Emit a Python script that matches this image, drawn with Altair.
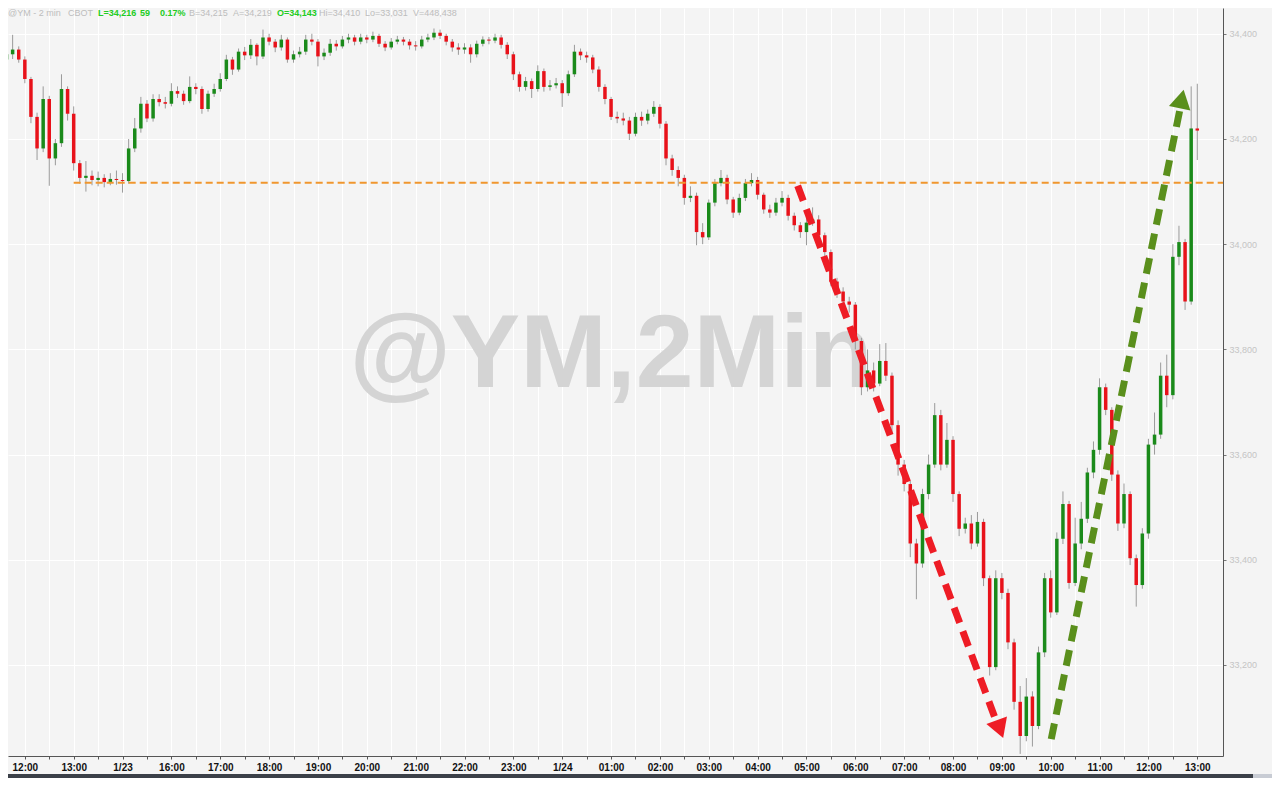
import altair as alt
import pandas as pd

# ---------------- data ----------------
first_open = 34351
closes = [34361,34370,34351,34314,34242,34182,34276,34163,34192,34295,
34248,34154,34126,34130,34122,34126,34118,34124,34122,34120,
34182,34220,34267,34239,34276,34270,34267,34291,34286,34272,
34299,34295,34257,34286,34295,34314,34351,34332,34366,34359,
34379,34357,34393,34385,34374,34389,34351,34361,34366,34389,
34385,34357,34364,34381,34376,34389,34393,34385,34393,34389,
34396,34381,34374,34385,34389,34385,34378,34376,34389,34393,
34402,34396,34385,34374,34370,34374,34361,34381,34389,34387,
34393,34379,34361,34323,34299,34310,34295,34329,34299,34302,
34306,34287,34323,34366,34359,34355,34332,34299,34276,34242,
34239,34235,34210,34242,34235,34248,34261,34229,34163,34141,
34126,34088,34092,34023,34013,34079,34116,34126,34085,34060,
34088,34116,34122,34094,34066,34060,34079,34088,34054,34036,
34023,34041,34047,34017,33985,33929,33910,33891,33885,33816,
33728,33760,33735,33778,33750,33656,33581,33544,33431,33393,
33525,33581,33675,33581,33628,33525,33459,33469,33431,33472,
33365,33196,33365,33337,33243,33130,33065,33140,33084,33224,
33365,33300,33440,33506,33356,33431,33478,33566,33609,33728,
33685,33562,33469,33525,33403,33352,33450,33619,33638,33750,
33713,33976,34004,33891,34220,34216]

highs = [34379,34398,34376,34357,34318,34250,34300,34282,34200,34323,
34300,34262,34160,34158,34140,34138,34133,34135,34140,34135,
34200,34240,34280,34274,34285,34285,34280,34306,34300,34292,
34319,34306,34300,34292,34305,34325,34360,34356,34372,34375,
34390,34382,34408,34400,34390,34398,34393,34368,34375,34398,
34400,34390,34372,34390,34388,34396,34400,34398,34400,34398,
34404,34400,34386,34392,34396,34394,34390,34386,34396,34400,
34410,34408,34400,34390,34382,34382,34380,34387,34395,34394,
34400,34398,34384,34366,34328,34318,34315,34340,34334,34312,
34316,34312,34330,34379,34372,34366,34360,34338,34304,34280,
34252,34250,34242,34250,34252,34256,34272,34266,34234,34170,
34148,34132,34110,34098,34040,34085,34124,34141,34132,34090,
34096,34124,34135,34128,34098,34075,34088,34101,34094,34060,
34042,34050,34070,34055,34022,33990,33936,33918,33900,33890,
33822,33800,33775,33810,33812,33756,33665,33590,33550,33440,
33535,33600,33698,33685,33660,33635,33530,33480,33485,33491,
33478,33370,33380,33375,33345,33250,33160,33175,33150,33235,
33375,33380,33452,33530,33512,33480,33510,33575,33625,33745,
33735,33690,33570,33545,33530,33410,33460,33630,33680,33775,
33790,34000,34035,34010,34300,34305]

lows = [34338,34352,34345,34306,34230,34160,34175,34111,34150,34185,
34235,34140,34115,34100,34112,34110,34108,34112,34113,34098,
34115,34175,34212,34232,34233,34262,34258,34262,34278,34265,
34268,34285,34248,34252,34280,34290,34310,34322,34328,34350,
34352,34340,34352,34378,34365,34368,34345,34345,34355,34360,
34378,34338,34350,34358,34368,34372,34382,34378,34380,34382,
34384,34375,34367,34370,34380,34378,34370,34368,34372,34384,
34388,34390,34378,34366,34360,34362,34345,34355,34376,34380,
34382,34372,34352,34312,34290,34292,34278,34290,34290,34292,
34296,34261,34282,34318,34350,34345,34325,34290,34266,34236,
34230,34226,34198,34205,34225,34228,34242,34220,34150,34130,
34110,34075,34080,33998,34000,34008,34072,34110,34076,34050,
34055,34082,34110,34085,34058,34050,34054,34072,34045,34026,
34012,33998,34035,34008,33975,33920,33898,33880,33870,33800,
33713,33720,33720,33730,33740,33640,33560,33530,33405,33325,
33385,33515,33575,33570,33575,33510,33445,33450,33420,33425,
33350,33180,33190,33325,33230,33115,33031,33055,33045,33078,
33215,33290,33295,33430,33345,33350,33420,33470,33555,33600,
33675,33550,33455,33460,33390,33311,33345,33440,33600,33630,
33690,33705,33960,33875,33885,34160]

# time axis: hour slots (12:00 = 0), one candle per 1/8 hour slot
T_START = -0.375
T_STEP = 0.125
x_labels = ["12:00", "13:00", "1/23", "16:00", "17:00", "18:00", "19:00", "20:00",
            "21:00", "22:00", "23:00", "1/24", "01:00", "02:00", "03:00", "04:00",
            "05:00", "06:00", "07:00", "08:00", "09:00", "10:00", "11:00", "12:00", "13:00"]
y_ticks = [33200, 33400, 33600, 33800, 34000, 34200, 34400]

level_price = 34117
level_start = 1.0

red_arrow_t = [15.82, 19.86]
red_arrow_p = [34111, 33099]
red_head = (19.96, 33078)
green_arrow_t = [21.01, 23.64]
green_arrow_p = [33059, 34254]
green_head = (23.68, 34276)

header_texts = ["@YM - 2 min", "CBOT", "L=34,216", "59", "0.17%", "B=34,215",
                "A=34,219", "O=34,143", "Hi=34,410", "Lo=33,031", "V=448,438"]
header_green = [False, False, True, True, True, False, False, True, False, False, False]

# ---------------- layout ----------------
W, H = 1215, 748
X_DOM = [-0.2424, 24.424]
Y_DOM = [33027, 34449]
RED = "#e8121a"
GREEN = "#1a8a1a"
BG = "#f4f4f4"
FONT = "Liberation Sans"
header_px = [0, 60, 90, 132, 152, 181, 225, 269, 311, 357, 405]

opens = [first_open] + closes[:-1]
n = len(closes)
df = pd.DataFrame({
    "t": [T_START + T_STEP * i for i in range(n)],
    "open": opens, "close": closes, "high": highs, "low": lows,
})
df["dir"] = ["up" if c >= o else "down" for o, c in zip(opens, closes)]

xs = alt.Scale(domain=X_DOM, nice=False, zero=False)
ys = alt.Scale(domain=Y_DOM, nice=False, zero=False)

labels_js = "[" + ",".join("'%s'" % s for s in x_labels) + "]"
x_axis = alt.Axis(
    values=[k * 0.5 for k in range(0, 49)],
    labelExpr="datum.value % 1 == 0 ? " + labels_js + "[datum.value] : ''",
    orient="bottom", title=None, grid=True, gridColor="#ffffff", gridWidth=1,
    domainColor="#555555", tickColor="#555555", tickSize=3,
    labelFont=FONT, labelFontSize=10, labelFontWeight="bold", labelColor="#111111",
    labelPadding=3, labelFlush=False, labelOverlap=False,
)
y_axis = alt.Axis(
    values=y_ticks, format=",d", orient="right", title=None, grid=True,
    gridColor="#ffffff", gridWidth=1, domainColor="#555555", tickColor="#777777",
    tickSize=3, labelFont=FONT, labelFontSize=9, labelColor="#c4c4c4", labelPadding=3,
)


def X(field):
    return alt.X(field, scale=xs, axis=x_axis)


def Y(field):
    return alt.Y(field, scale=ys, axis=y_axis)


color = alt.Color("dir:N", scale=alt.Scale(domain=["up", "down"], range=[GREEN, RED]), legend=None)

base = alt.Chart(df)
wicks = base.mark_rule(color="#9a9a9a", strokeWidth=1, clip=True).encode(
    x=X("t:Q"), y=Y("low:Q"), y2="high:Q",
)
bodies = base.mark_bar(size=3.5, clip=True).encode(
    x=X("t:Q"), y=Y("open:Q"), y2="close:Q", color=color,
)

one = pd.DataFrame({"k": [0]})
watermark = alt.Chart(one).mark_text(
    text="@YM,2Min", font=FONT, fontSize=104, fontWeight="bold", color="#d4d4d4",
    align="center", baseline="middle",
).encode(x=alt.value(603), y=alt.value(348))

level = alt.Chart(pd.DataFrame({"t": [level_start], "p": [level_price]})).mark_rule(
    color="#f0962e", strokeWidth=2, strokeDash=[7, 4]
).encode(x=X("t:Q"), x2=alt.value(W), y=Y("p:Q"))


def arrow(ts, ps, head, ang, col):
    shaft = alt.Chart(pd.DataFrame({"t": [ts[0]], "t2": [ts[1]], "p": [ps[0]], "p2": [ps[1]]})).mark_rule(
        color=col, strokeWidth=7, strokeDash=[16, 9], strokeCap="butt"
    ).encode(x=X("t:Q"), x2="t2:Q", y=Y("p:Q"), y2="p2:Q")
    tip = alt.Chart(pd.DataFrame({"t": [head[0]], "p": [head[1]]})).mark_point(
        shape="triangle-up", filled=True, size=480, angle=ang, color=col, opacity=1
    ).encode(x=X("t:Q"), y=Y("p:Q"))
    return [shaft, tip]


red_arr = arrow(red_arrow_t, red_arrow_p, red_head, 160, "#ee1c25")
green_arr = arrow(green_arrow_t, green_arrow_p, green_head, 12, "#5a8f1c")

header = []
for txt, g, px in zip(header_texts, header_green, header_px):
    header.append(alt.Chart(one).mark_text(
        text=txt, font=FONT, fontSize=9, align="left", baseline="top",
        fontWeight="bold" if g else "normal", color="#22cc22" if g else "#bdbdbd",
    ).encode(x=alt.value(px), y=alt.value(1)))

band = alt.Chart(one).mark_rect(color="#3b4048").encode(
    x=alt.value(0), x2=alt.value(W + 30), y=alt.value(H + 18), y2=alt.value(H + 22)
)
band2 = alt.Chart(one).mark_rect(color="#c8ccd4").encode(
    x=alt.value(W + 30), x2=alt.value(W + 49), y=alt.value(H + 18), y2=alt.value(H + 22)
)

chart = alt.layer(
    watermark, wicks, bodies, level, *red_arr, *green_arr, *header, band, band2
).properties(
    width=W, height=H,
    autosize=alt.AutoSizeParams(type="none"),
    padding={"left": 0, "top": 0, "right": 49, "bottom": 22},
    background=BG,
).configure_view(fill=BG, strokeWidth=0)

chart.save("out.html", embed_options={"renderer": "svg", "actions": False})
